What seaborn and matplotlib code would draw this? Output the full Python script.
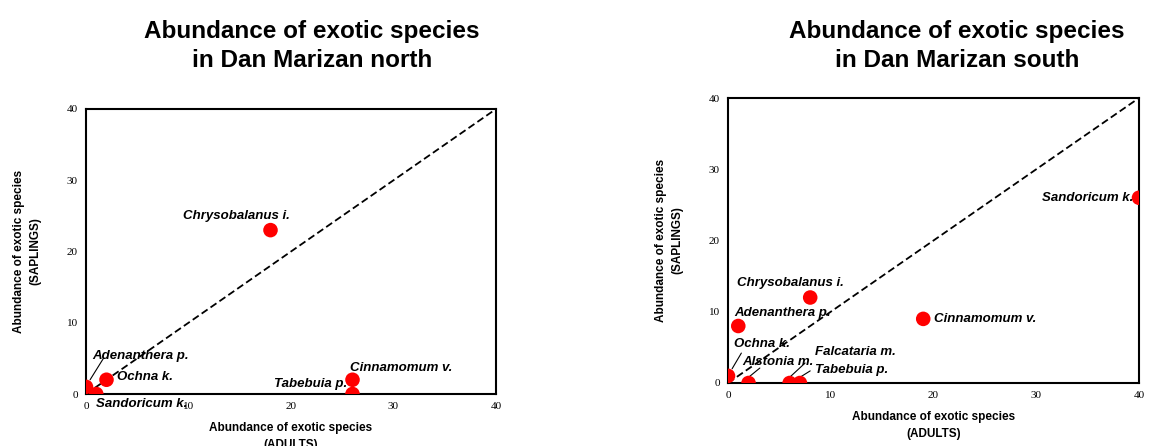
import matplotlib
matplotlib.use("Agg")
import matplotlib.pyplot as plt
import seaborn as sns
import pandas as pd

# north site: (adults, saplings)
north_species = ["Adenanthera p.", "Ochna k.", "Sandoricum k.", "Chrysobalanus i.", "Cinnamomum v.", "Tabebuia p."]
north_adults = [0, 2, 1, 18, 26, 26]
north_saplings = [1, 2, 0, 23, 2, 0]

# south site
south_species = ["Ochna k.", "Adenanthera p.", "Alstonia m.", "Falcataria m.", "Tabebuia p.", "Chrysobalanus i.", "Cinnamomum v.", "Sandoricum k."]
south_adults = [0, 1, 2, 6, 7, 8, 19, 40]
south_saplings = [1, 8, 0, 0, 0, 12, 9, 26]

ticks = [0, 10, 20, 30, 40]

# label placement (x, y, ha, leader line end or None)
north_labels = {
    "Adenanthera p.": (0.6, 5.3, "left", (1.7, 5.0)),
    "Ochna k.": (3.0, 2.4, "left", None),
    "Sandoricum k.": (1.0, -1.4, "left", None),
    "Chrysobalanus i.": (9.5, 25.0, "left", None),
    "Cinnamomum v.": (25.8, 3.6, "left", None),
    "Tabebuia p.": (25.5, 1.4, "right", None),
}
south_labels = {
    "Ochna k.": (0.6, 5.5, "left", (1.3, 4.2)),
    "Adenanthera p.": (0.6, 9.8, "left", None),
    "Alstonia m.": (1.4, 2.9, "left", (3.1, 2.1)),
    "Falcataria m.": (8.5, 4.3, "left", (7.5, 2.8)),
    "Tabebuia p.": (8.5, 1.8, "left", (8.0, 1.7)),
    "Chrysobalanus i.": (0.9, 14.0, "left", None),
    "Cinnamomum v.": (20.0, 9.0, "left", None),
    "Sandoricum k.": (39.4, 26.0, "right", None),
}

sns.set_style("white")
plt.rcParams['font.family'] = ['Liberation Sans', 'DejaVu Sans']
plt.rcParams['text.color'] = 'black'
plt.rcParams['axes.labelcolor'] = 'black'
plt.rcParams['xtick.color'] = 'black'
plt.rcParams['ytick.color'] = 'black'

fig = plt.figure(figsize=(11.76, 4.46), dpi=100)


def panel(rect, species, adults, saplings, labels, title, title_x):
    ax = fig.add_axes(rect)
    df = pd.DataFrame({"species": species, "adults": adults, "saplings": saplings})
    ax.plot([0, 40], [0, 40], ls=(0, (4, 2)), color="black", lw=1.3, zorder=1)
    sns.scatterplot(data=df, x="adults", y="saplings", ax=ax, color="#ff0000",
                    s=110, edgecolor="none", zorder=3)
    for name, xa, ya in zip(species, adults, saplings):
        lx, ly, ha, leader = labels[name]
        ax.text(lx, ly, name, ha=ha, va="center", fontsize=9.5, fontweight="bold",
                fontstyle="italic", zorder=4)
        if leader is not None:
            ax.plot([xa + 0.4 if xa == 0 else xa, leader[0]],
                    [ya + 0.8 if ya == 0 else ya + 1.0, leader[1]],
                    color="black", lw=0.8, zorder=2)
    ax.set_xlim(0, 40)
    ax.set_ylim(0, 40)
    ax.set_xticks(ticks)
    ax.set_yticks(ticks)
    for lab in ax.get_xticklabels() + ax.get_yticklabels():
        lab.set_family("Liberation Serif")
        lab.set_fontsize(8)
    ax.tick_params(direction="out", length=4, width=1, color="black", pad=2)
    for sp in ax.spines.values():
        sp.set_visible(True)
        sp.set_color("black")
        sp.set_linewidth(1.5)
    ax.set_xlabel("Abundance of exotic species\n(ADULTS)", fontsize=8.5, fontweight="bold",
                  labelpad=8, linespacing=1.5)
    ax.set_ylabel("Abundance of exotic species\n(SAPLINGS)", fontsize=8.5, fontweight="bold",
                  labelpad=18, linespacing=1.5)
    fig.text(title_x, 1 - 46 / 446, title, ha="center", va="center", fontsize=17.5,
             fontweight="bold", linespacing=1.3)
    return ax


panel([86 / 1176, 52 / 446, 410 / 1176, 285 / 446], north_species, north_adults, north_saplings,
      north_labels, "Abundance of exotic species\nin Dan Marizan north", 312 / 1176)
panel([728 / 1176, 63 / 446, 411 / 1176, 285 / 446], south_species, south_adults, south_saplings,
      south_labels, "Abundance of exotic species\nin Dan Marizan south", 957 / 1176)

fig.savefig("out.png", dpi=100)
